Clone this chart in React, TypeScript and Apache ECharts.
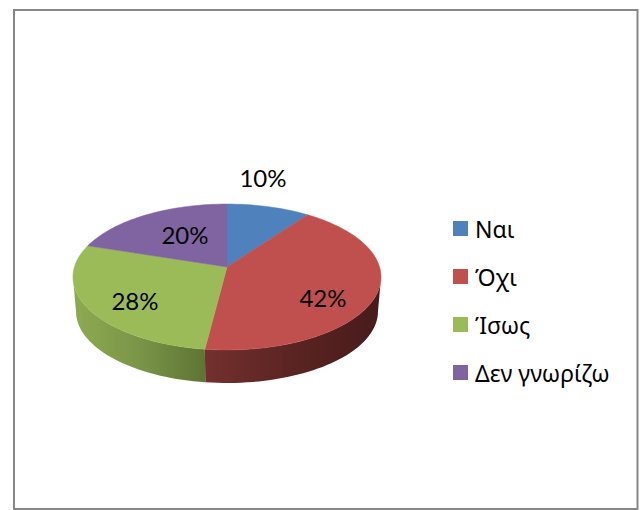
import React, { useEffect, useRef } from "react";
import * as echarts from "echarts";

const categories = ["Ναι", "Όχι", "Ίσως", "Δεν γνωρίζω"];
const values = [10, 42, 28, 20];
const colors = ["#4f81bd", "#c0504d", "#9bbb59", "#8064a2"];
const sideStops: (string[] | null)[] = [null, ["#73302e", "#5a2422", "#471b1a"], ["#8dab51", "#7a9548", "#5e7434"], null];
const labelAt = [[263, 177], [323, 297], [135, 300], [185, 234]];

const AX = 227, AY = 267, A = 152.6, B = 71.6, K = 0.137, DEPTH = 34.7, SHRINK = 0.98;
const LIMIT = (Math.acos(-K) * 180) / Math.PI;

function project(deg: number, bottom = false): number[] {
  const t = (deg * Math.PI) / 180;
  const w = 1 + K * Math.cos(t);
  const dx = (A * Math.sin(t)) / w;
  const dy = (-B * Math.cos(t)) / w;
  return bottom ? [AX + dx * SHRINK, AY + dy * SHRINK + DEPTH] : [AX + dx, AY + dy];
}

function arc(from: number, to: number, bottom = false): number[][] {
  const n = Math.max(2, Math.ceil((to - from) / 2));
  const pts: number[][] = [];
  for (let i = 0; i <= n; i++) pts.push(project(from + ((to - from) * i) / n, bottom));
  return pts;
}

const total = values.reduce((a, b) => a + b, 0);

export default function App() {
  const ref = useRef<HTMLDivElement>(null);
  useEffect(() => {
    document.body.style.margin = "0";
    const chart = echarts.init(ref.current!, null, { renderer: "svg" });
    let acc = 0;
    const series = values.map((v, i) => {
      const start = acc;
      acc += v;
      return {
        type: "custom",
        name: categories[i],
        coordinateSystem: "none",
        itemStyle: { color: colors[i] },
        data: [[start, start + v, v]],
        renderItem: (_p: any, api: any) => {
          const from = (api.value(0) / total) * 360;
          const to = (api.value(1) / total) * 360;
          const children: any[] = [];
          const s0 = Math.max(from, LIMIT);
          const s1 = Math.min(to, 360 - LIMIT);
          const stops = sideStops[i];
          if (s1 > s0 && stops) {
            const top = arc(s0, s1);
            const bot = arc(s0, s1, true).reverse();
            const xs = top.concat(bot).map((p) => p[0]);
            const lo = Math.min(...xs), hi = Math.max(...xs);
            const fill = new echarts.graphic.LinearGradient(
              lo, 0, hi, 0,
              stops.map((c, k) => ({ offset: k / (stops.length - 1), color: c })),
              true
            );
            children.push({
              type: "polygon",
              shape: { points: top.concat(bot) },
              style: { fill, stroke: "none" },
            });
          }
          children.push({
            type: "polygon",
            shape: { points: [[AX, AY], ...arc(from, to)] },
            style: { fill: colors[i], stroke: colors[i], lineWidth: 0.5 },
          });
          children.push({
            type: "text",
            z2: 10,
            style: {
              text: Math.round((api.value(2) / total) * 100) + "%",
              x: labelAt[i][0],
              y: labelAt[i][1],
              align: "center",
              verticalAlign: "middle",
              fill: "#000",
              font: '24px Lato, "Noto Sans", sans-serif',
            },
          });
          return { type: "group", children };
        },
      };
    });
    chart.setOption({
      animation: false,
      backgroundColor: "#fff",
      legend: {
        orient: "vertical",
        left: 453,
        top: 215.5,
        padding: 0,
        icon: "rect",
        itemWidth: 15,
        itemHeight: 15,
        itemGap: 22,
        selectedMode: false,
        formatter: "{name}",
        textStyle: { fontFamily: '"Noto Sans", sans-serif', fontSize: 23, color: "#000", padding: [0, 0, 7, 2], lineHeight: 19 },
        data: categories,
      },
      graphic: [
        {
          type: "rect",
          shape: { x: 14, y: 10, width: 623.5, height: 499 },
          style: { fill: "none", stroke: "#888888", lineWidth: 2 },
          silent: true,
        },
      ],
      series,
    });
    return () => chart.dispose();
  }, []);
  return <div ref={ref} style={{ position: "absolute", left: 0, top: 0, width: 644, height: 510 }} />;
}
